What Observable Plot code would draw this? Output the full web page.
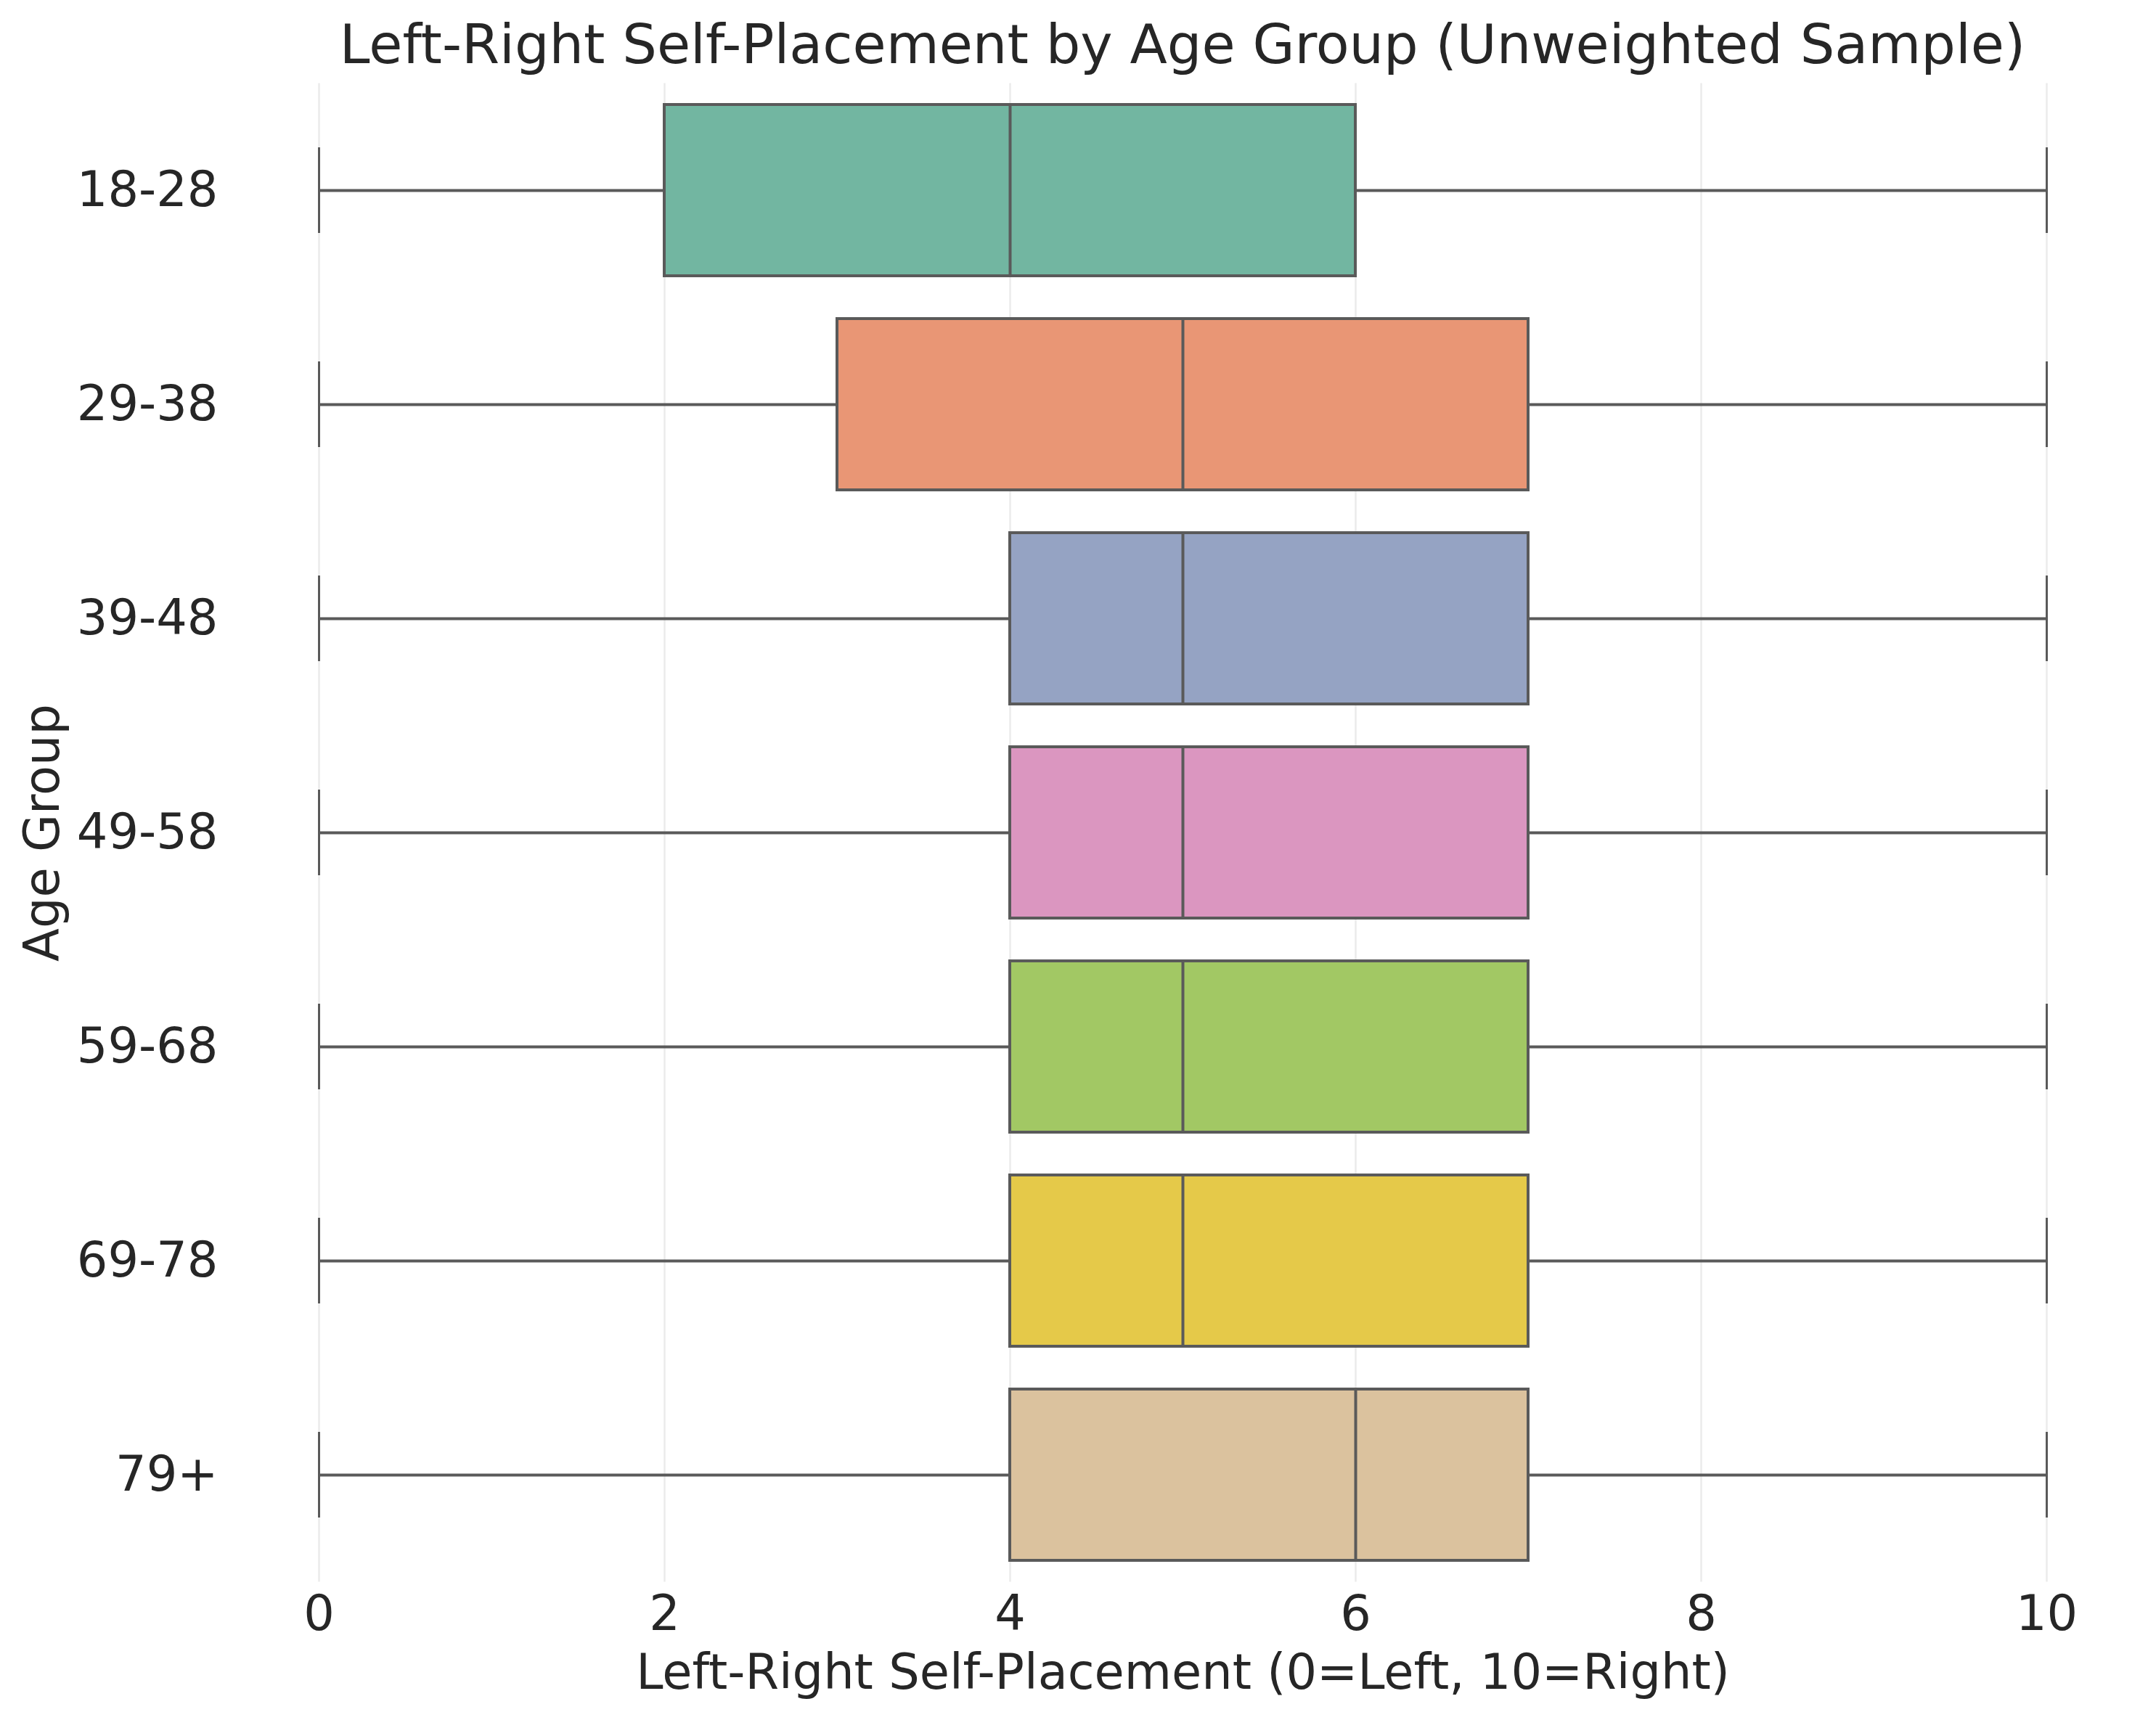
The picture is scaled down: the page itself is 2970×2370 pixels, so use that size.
<!DOCTYPE html>
<html>
<head>
<meta charset="utf-8">
<script src="https://cdn.jsdelivr.net/npm/d3@7"></script>
<script src="https://cdn.jsdelivr.net/npm/@observablehq/plot@0.6"></script>
<style>
  html, body { margin: 0; padding: 0; background: #ffffff; }
  #wrap { width: 2970px; }
  #title {
    box-sizing: border-box;
    height: 111px;
    padding-top: 11px;
    line-height: 100px;
    font-family: "DejaVu Sans", sans-serif;
    font-size: 75px;
    color: #262626;
    text-align: center;
    padding-left: 288px;   /* center the title over the plot frame */
    white-space: nowrap;
  }
</style>
</head>
<body>
<div id="wrap">
  <div id="title">Left-Right Self-Placement by Age Group (Unweighted Sample)</div>
  <div id="chart"></div>
</div>
<script>
// ---- data ----
const ageGroups   = ["18-28", "29-38", "39-48", "49-58", "59-68", "69-78", "79+"];
const whiskerLow  = [0, 0, 0, 0, 0, 0, 0];
const q1          = [2, 3, 4, 4, 4, 4, 4];
const median      = [4, 5, 5, 5, 5, 5, 6];
const q3          = [6, 7, 7, 7, 7, 7, 7];
const whiskerHigh = [10, 10, 10, 10, 10, 10, 10];
const xTicks      = [0, 2, 4, 6, 8, 10];

// seaborn Set2 (desaturated 0.75)
const palette = ["#72b6a1", "#e99675", "#95a3c3", "#db96c0", "#a2c864", "#e5c949", "#dbc29e"];

const rows = ageGroups.map((g, i) => ({
  group: g, lo: whiskerLow[i], q1: q1[i], med: median[i], q3: q3[i], hi: whiskerHigh[i]
}));

const line = "#5a5a5a";

const chart = Plot.plot({
  width: 2970,
  height: 2259,
  marginTop: 3.5,
  marginBottom: 190.5,
  marginLeft: 320,
  marginRight: 32,
  style: {fontFamily: "DejaVu Sans, sans-serif", fontSize: "67px", color: "#262626", background: "#ffffff"},
  x: {domain: [-0.5, 10.5]},
  y: {domain: ageGroups, paddingInner: 0.2, paddingOuter: 0.1},
  color: {domain: ageGroups, range: palette},
  marks: [
    Plot.gridX(xTicks, {stroke: "#ebebeb", strokeOpacity: 1, strokeWidth: 2.5}),
    Plot.ruleY(rows, {y: "group", x1: "lo", x2: "q1", stroke: line, strokeWidth: 4}),
    Plot.ruleY(rows, {y: "group", x1: "q3", x2: "hi", stroke: line, strokeWidth: 4}),
    Plot.tickX(rows, {x: "lo", y: "group", stroke: line, strokeWidth: 3, insetTop: 59, insetBottom: 59}),
    Plot.tickX(rows, {x: "hi", y: "group", stroke: line, strokeWidth: 3, insetTop: 59, insetBottom: 59}),
    Plot.barX(rows, {x1: "q1", x2: "q3", y: "group", fill: "group", stroke: line, strokeWidth: 4}),
    Plot.tickX(rows, {x: "med", y: "group", stroke: line, strokeWidth: 4}),
    Plot.axisX({
      ticks: xTicks, tickSize: 0, tickPadding: 18,
      label: "Left-Right Self-Placement (0=Left, 10=Right)",
      labelAnchor: "center", labelArrow: "none", labelOffset: 146.5
    }),
    Plot.axisY({
      tickSize: 0, tickPadding: 20,
      label: "Age Group", labelAnchor: "center", labelArrow: "none", labelOffset: 287
    })
  ]
});
document.getElementById("chart").appendChild(chart);
</script>
</body>
</html>
